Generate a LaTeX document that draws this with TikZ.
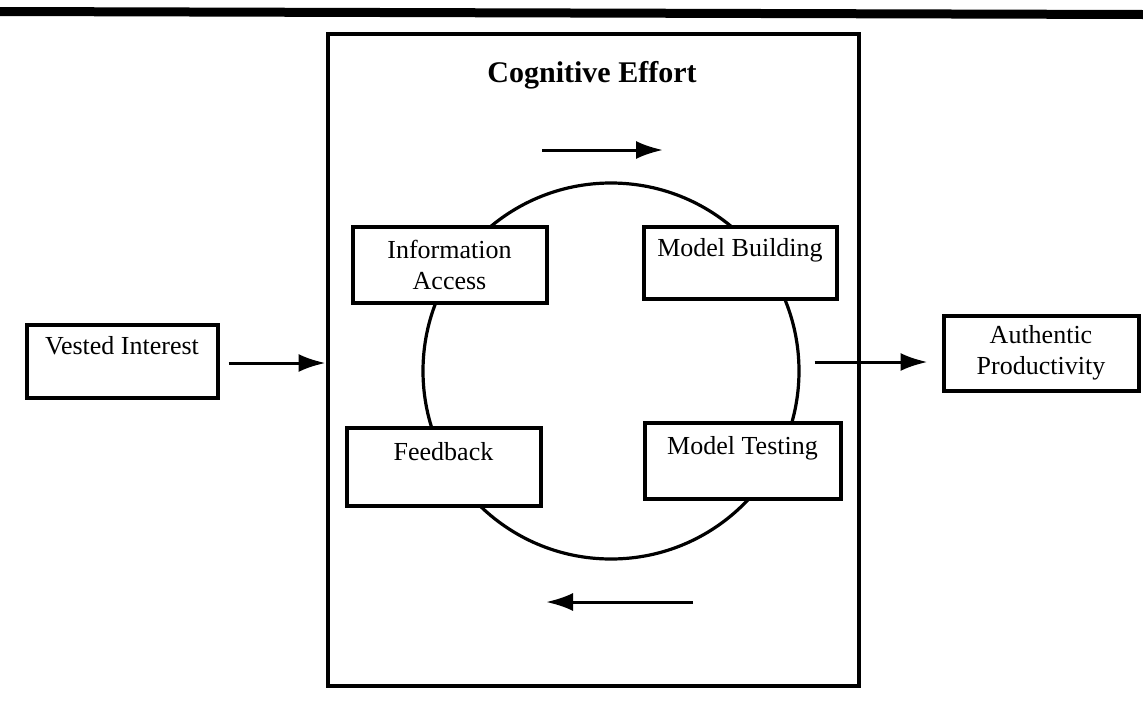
\documentclass[tikz,border=0pt]{standalone}
\usepackage{fontspec}
\setmainfont{Liberation Serif}
\usetikzlibrary{arrows.meta}
\begin{document}
\begin{tikzpicture}[x=1pt,y=-1pt,
  box/.style={draw, line width=4pt, fill=white, align=center, inner sep=0pt,
    font=\fontsize{26}{31}\selectfont},
  flow/.style={line width=3pt, -{Latex[length=27pt,width=18pt]}},
]
\useasboundingbox (0,0) rectangle (1143,702);

% heavy rule across the top
\fill (0,7) -- (1143,10) -- (1143,19) -- (0,16) -- cycle;

% outer frame and its heading
\node[draw, line width=4pt, minimum width=531pt, minimum height=652pt, inner sep=0pt]
  (effort) at (593,359.5) {};
\node[font=\bfseries\fontsize{30}{36}\selectfont] (title) at (592,75) {Cognitive Effort};

% the cycle behind the four stages
\node[draw, circle, line width=3.2pt, minimum size=376pt, inner sep=0pt] (cycle) at (611,371) {};

% stages
\node[box, minimum width=194pt, minimum height=76pt] (info)  at (449.5,264.5) {Information\\Access};
\node[box, minimum width=193pt, minimum height=72pt] (build) at (740,262.5) {Model Building\\\mbox{}};
\node[box, minimum width=194pt, minimum height=78pt] (feed)  at (443.5,466.5) {Feedback\\\mbox{}};
\node[box, minimum width=196pt, minimum height=76pt] (test)  at (742.5,460.5) {Model Testing\\\mbox{}};

% input and output
\node[box, minimum width=191pt, minimum height=73pt] (vested) at (122,361) {Vested Interest\\\mbox{}};
\node[box, minimum width=195pt, minimum height=75pt] (auth)   at (1041,353) {Authentic\\Productivity};

% direction of the cycle
\coordinate (cwA) at (542,150);
\coordinate (cwB) at (663,150);
\coordinate (ccwA) at (693,602);
\coordinate (ccwB) at (546,602);
\draw[flow] (cwA) -- (cwB);
\draw[flow] (ccwA) -- (ccwB);

% connectors
\draw[flow, shorten <=9pt] ([yshift=-2pt]vested.east) -- ([yshift=-2pt]vested.east -| effort.west);
\draw[flow, shorten <=14pt, shorten >=14pt] ([yshift=9pt]cycle.east) -- ([yshift=9pt]cycle.east -| auth.west);
\end{tikzpicture}
\end{document}
